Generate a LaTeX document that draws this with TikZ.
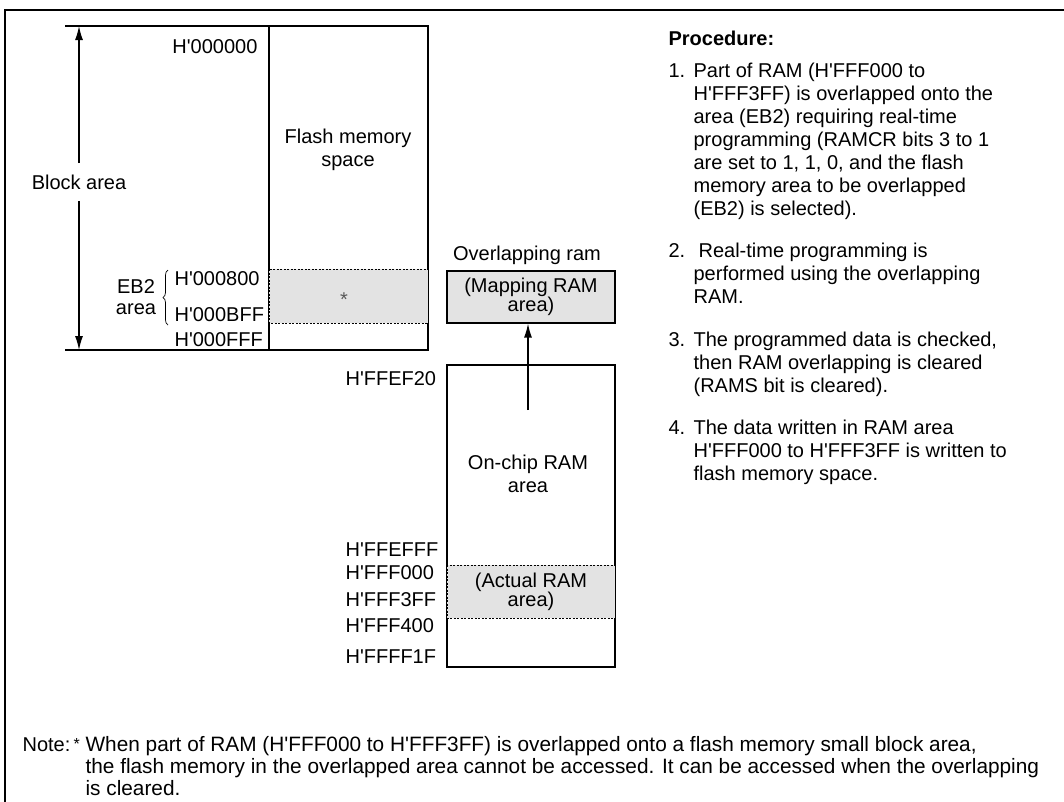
\documentclass[tikz,border=0pt]{standalone}
\usepackage{fontspec}
\setmainfont{Liberation Sans}[Ligatures=TeXOff]
\usetikzlibrary{arrows.meta,positioning,decorations.pathreplacing}
\newcommand{\num}[1]{\makebox[25pt][l]{#1}}
\newcommand{\ind}{\hspace*{25pt}}
\tikzset{
  txt/.style={inner sep=0pt, font=\fontsize{20}{23}\selectfont},
  boxtxt/.style={inner sep=0pt, align=center, font=\fontsize{20}{19}\selectfont},
  item/.style={txt, align=left, anchor=north west},
  shaded/.style={fill=gray!22, draw, dash pattern=on 2pt off 1.5pt, line width=0.9pt},
  arrow/.style={-{Latex[length=14pt,width=8pt]}, line width=1.3pt}
}
\begin{document}
\begin{tikzpicture}[x=1pt,y=-1pt,line width=1.2pt]
\useasboundingbox (0,0) rectangle (1064,801);
\draw[line width=2pt] (5,810) -- (5,10) -- (1070,10);
% flash memory map
\draw (65,26) -- (428,26);
\draw (65,350) -- (428,350);
\draw (269,26) rectangle (428,350);
\draw[shaded] (269,269) rectangle (428,323);
\node[txt, text=black!65] (star) at (344,300) {*};
\node[txt, align=center] (flashsp) at (348,150) {Flash memory\\space};
\coordinate (blktop) at (79,26);
\coordinate (blkbot) at (79,350);
\node[txt, inner ysep=11pt] (blk) at (79,182) {Block area};
\draw[arrow] (blk) -- (blktop);
\draw[arrow] (blk) -- (blkbot);
\node[txt, anchor=east] (a0) at (258,47) {H'000000};
\node[txt, anchor=west] (a800) at (174,279) {H'000800};
\node[txt, anchor=west] (abff) at (174,315) {H'000BFF};
\node[txt, anchor=west] (afff) at (174,340) {H'000FFF};
\node[boxtxt, font=\fontsize{20}{21}\selectfont] (eb2) at (136,297) {EB2\\area};
\draw[decorate, decoration={brace, amplitude=5pt}, line width=0.7pt] (168,325) -- (168,270);
% RAM map
\node[txt] (ovl) at (527,255) {Overlapping ram};
\node[draw, fill=gray!22, minimum width=168, minimum height=52, boxtxt] (map) at (531,297) {(Mapping RAM\\area)};
\draw (447,365) rectangle (615,667);
\draw[shaded] (447,565) rectangle (615,618);
\node[boxtxt] (act) at (531,592) {(Actual RAM\\area)};
\node[txt, align=center] (onchip) at (528,474) {On-chip RAM\\area};
\coordinate (arrtail) at (528,410);
\draw[arrow] (arrtail) -- (arrtail |- map.south);
\node[txt, anchor=west] (r1) at (345,379) {H'FFEF20};
\node[txt, anchor=west] (r2) at (345,550) {H'FFEFFF};
\node[txt, anchor=west] (r3) at (345,573) {H'FFF000};
\node[txt, anchor=west] (r4) at (345,600) {H'FFF3FF};
\node[txt, anchor=west] (r5) at (345,626) {H'FFF400};
\node[txt, anchor=west] (r6) at (345,657) {H'FFFF1F};
% procedure
\node[txt, anchor=west] (proc) at (668,38) {\bfseries Procedure:};
\node[item] (steps) at (668,62) {\num{1.}Part of RAM (H'FFF000 to\\
  \ind H'FFF3FF) is overlapped onto the\\
  \ind area (EB2) requiring real-time\\
  \ind programming (RAMCR bits 3 to 1\\
  \ind are set to 1, 1, 0, and the flash\\
  \ind memory area to be overlapped\\
  \ind (EB2) is selected).\\[19.5pt]
  \num{2.}\hspace{5pt}Real-time programming is\\
  \ind performed using the overlapping\\
  \ind RAM.\\[19.5pt]
  \num{3.}The programmed data is checked,\\
  \ind then RAM overlapping is cleared\\
  \ind (RAMS bit is cleared).\\[19.5pt]
  \num{4.}The data written in RAM area\\
  \ind H'FFF000 to H'FFF3FF is written to\\
  \ind flash memory space.};
% note
\node[txt, anchor=west] (note) at (22,745) {Note:};
\node[txt, anchor=west, font=\fontsize{16}{16}\selectfont] (nstar) at (73,744) {*};
\node[item, font=\fontsize{20.8}{22}\selectfont] (ntext) at (85,736) {When part of RAM (H'FFF000 to H'FFF3FF) is overlapped onto a flash memory small block area,\\the flash memory in the overlapped area cannot be accessed. It can be accessed when the overlapping\\is cleared.};
\end{tikzpicture}
\end{document}
